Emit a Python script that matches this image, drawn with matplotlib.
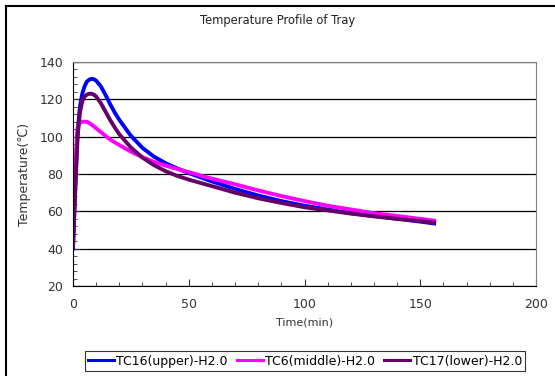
import matplotlib.pyplot as plt
from matplotlib.lines import Line2D
from matplotlib.ticker import MultipleLocator

# time (min)
t = [0, 1, 2, 3, 4, 5, 6, 7, 8, 9, 10, 12, 14, 16, 18, 20, 25, 30, 35, 40,
     45, 50, 60, 70, 80, 90, 100, 110, 120, 130, 140, 150, 156]

tc16_upper = [40, 75, 103, 116, 123, 127, 129.5, 130.5, 131, 130.8, 130, 127,
              122.5, 117.5, 113, 109, 100.5, 94, 89.3, 85.8, 83, 80.5, 76, 72,
              68.5, 65.5, 63, 61, 59, 57.5, 56, 54.5, 53.5]
tc6_middle = [42, 85, 105, 107.5, 108, 108, 108, 107.3, 106.5, 105.5, 104.5,
              102.5, 100.5, 98.5, 97, 95.5, 92, 89, 86.5, 84.5, 82.7, 81, 77.5,
              74.5, 71.2, 68.2, 65.5, 63, 61, 59, 57.5, 56, 55]
tc17_lower = [41, 72, 100, 113, 119, 121.5, 122.5, 123, 123, 122.5, 121.5, 118,
              113.5, 109, 105, 101.3, 94.2, 88.8, 84.7, 81.5, 79, 77, 73.5, 70,
              67, 64.5, 62.2, 60.5, 58.8, 57.3, 56, 54.8, 54]

labels = ["TC16(upper)-H2.0", "TC6(middle)-H2.0", "TC17(lower)-H2.0"]
colors = ["#0000ff", "#ff00ff", "#660066"]

fig = plt.figure(figsize=(5.55, 3.76), dpi=100)
# outer chart border (left and top edges visible)
fig.lines.append(Line2D([5.5 / 555, 5.5 / 555], [0, 1 - 5.5 / 376],
                        transform=fig.transFigure, color="black", linewidth=1.5))
fig.lines.append(Line2D([5.5 / 555, 1], [1 - 5.5 / 376, 1 - 5.5 / 376],
                        transform=fig.transFigure, color="black", linewidth=1.5))

ax = fig.add_axes([73 / 555, 90 / 376, 463 / 555, 224 / 376])

for ys, lab, c in zip([tc16_upper, tc6_middle, tc17_lower], labels, colors):
    ax.plot(t, ys, color=c, linewidth=2.8, label=lab, solid_joinstyle="round")

ax.set_xlim(0, 200)
ax.set_ylim(20, 140)
ax.xaxis.set_major_locator(MultipleLocator(50))
ax.xaxis.set_minor_locator(MultipleLocator(10))
ax.yaxis.set_major_locator(MultipleLocator(20))
ax.yaxis.set_minor_locator(MultipleLocator(4))
ax.tick_params(which="both", direction="in", top=False, right=False,
               labelsize=9, colors="#333333")
ax.tick_params(axis="x", which="major", pad=9)
ax.tick_params(axis="y", which="major", pad=7)
ax.tick_params(which="major", length=5)
ax.tick_params(which="minor", length=3)
ax.grid(axis="y", which="major", color="black", linewidth=0.9)
ax.set_axisbelow(True)
for side in ["left", "bottom"]:
    ax.spines[side].set_color("black")
for side in ["top", "right"]:
    ax.spines[side].set_color("#808080")

ax.set_xlabel("Time(min)", fontsize=8, color="#333333", labelpad=4)
ax.set_ylabel("Temperature(\u2103)", fontsize=9, color="#333333", labelpad=6)

fig.text(0.5, 0.945, "Temperature Profile of Tray", ha="center", va="center",
         fontsize=8.3, color="#222222")

leg = fig.legend(loc="center", bbox_to_anchor=(305 / 555, 1 - 361 / 376), ncol=3,
                 fontsize=9, frameon=True, fancybox=False, edgecolor="black",
                 handlelength=2.1, handletextpad=0.2, columnspacing=0.7,
                 borderpad=0.25, borderaxespad=0)
leg.get_frame().set_linewidth(0.8)
for ln in leg.get_lines():
    ln.set_linewidth(2.2)

fig.savefig("out.png", dpi=100)
